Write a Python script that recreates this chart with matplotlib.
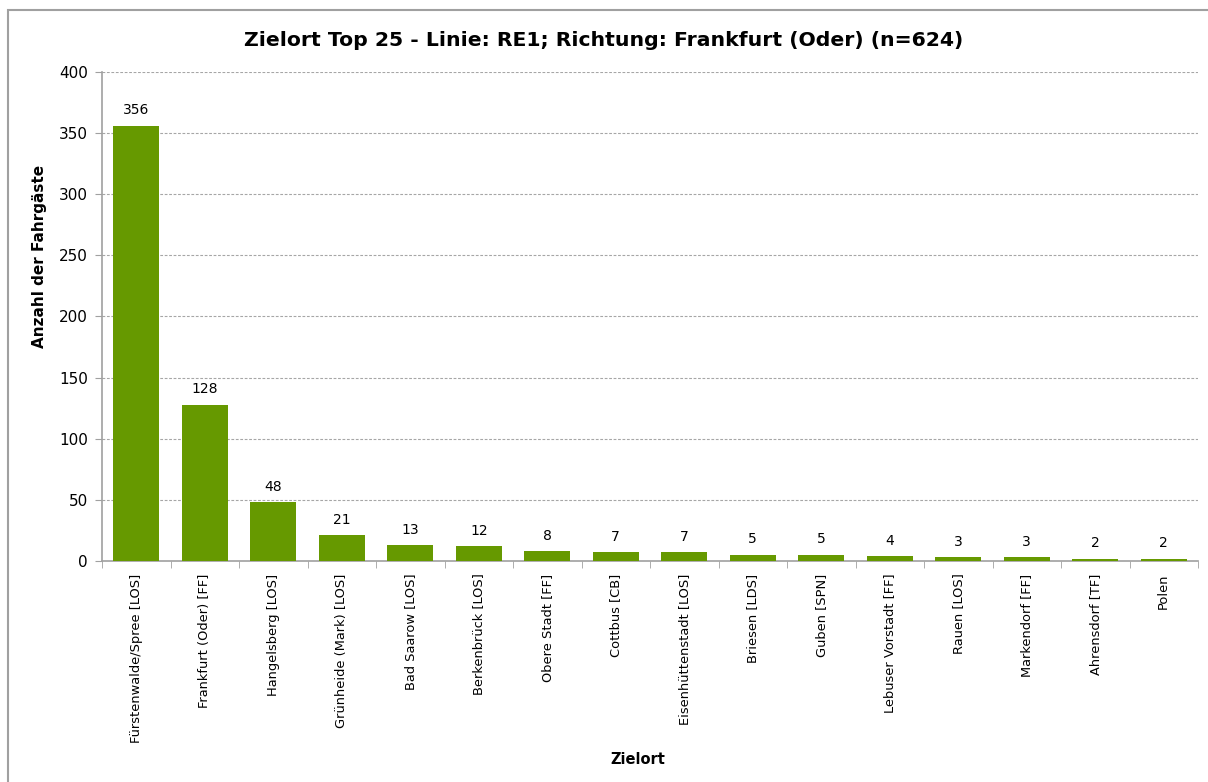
import matplotlib
matplotlib.use("Agg")
import matplotlib.pyplot as plt
from matplotlib.patches import Rectangle
import numpy as np

categories = ["Fürstenwalde/Spree [LOS]", "Frankfurt (Oder) [FF]", "Hangelsberg [LOS]",
              "Grünheide (Mark) [LOS]", "Bad Saarow [LOS]", "Berkenbrück [LOS]",
              "Obere Stadt [FF]", "Cottbus [CB]", "Eisenhüttenstadt [LOS]", "Briesen [LDS]",
              "Guben [SPN]", "Lebuser Vorstadt [FF]", "Rauen [LOS]", "Markendorf [FF]",
              "Ahrensdorf [TF]", "Polen"]
values = [356, 128, 48, 21, 13, 12, 8, 7, 7, 5, 5, 4, 3, 3, 2, 2]
yticks = [0, 50, 100, 150, 200, 250, 300, 350, 400]

plt.rcParams['font.family'] = ['DejaVu Sans']
fig = plt.figure(figsize=(12.08, 7.82), dpi=100)
ax = fig.add_axes([102/1208, 1-561/782, 1096/1208, (561-72)/782])

x = np.arange(len(categories))
ax.bar(x, values, width=0.67, color='#669900', zorder=3)
for xi, v in zip(x, values):
    ax.text(xi, v + 7, str(v), ha='center', va='bottom', fontsize=10, color='#000000')

ax.set_xlim(-0.5, len(categories) - 0.5)
ax.set_ylim(0, 400)
ax.set_yticks(yticks)
ax.set_yticklabels([str(t) for t in yticks], fontsize=11)
ax.yaxis.grid(True, linestyle=(0, (2.5, 1.5)), color='#A6A6A6', linewidth=0.8, zorder=0)
ax.set_axisbelow(True)

ax.set_xticks(x)
ax.set_xticklabels(categories, rotation=90, fontsize=9.4, va='top')
ax.set_xticks(np.arange(len(categories) + 1) - 0.5, minor=True)
ax.tick_params(axis='x', which='major', length=0, pad=9)
ax.tick_params(axis='x', which='minor', length=5, color='#A0A0A0', direction='out')
ax.tick_params(axis='y', length=5, color='#A0A0A0', direction='out', pad=5)

for s in ['top', 'right']:
    ax.spines[s].set_visible(False)
for s in ['left', 'bottom']:
    ax.spines[s].set_color('#A0A0A0')
    ax.spines[s].set_linewidth(1.2)

fig.text(40/1208, 1-256/782, "Anzahl der Fahrgäste", ha='center', va='center', rotation=90,
         fontsize=11, fontweight='bold')
fig.text(638/1208, 1-760/782, "Zielort", ha='center', va='center', fontsize=10.5, fontweight='bold')
fig.text(604/1208, 1-40/782, "Zielort Top 25 - Linie: RE1; Richtung: Frankfurt (Oder) (n=624)",
         ha='center', va='center', fontsize=14.7, fontweight='bold')

fig.patches.append(Rectangle((8/1208, -0.05), 1.1, 1-10/782+0.05, transform=fig.transFigure,
                             fill=False, edgecolor='#A0A0A0', linewidth=1.5))

fig.savefig("out.png", dpi=100)
